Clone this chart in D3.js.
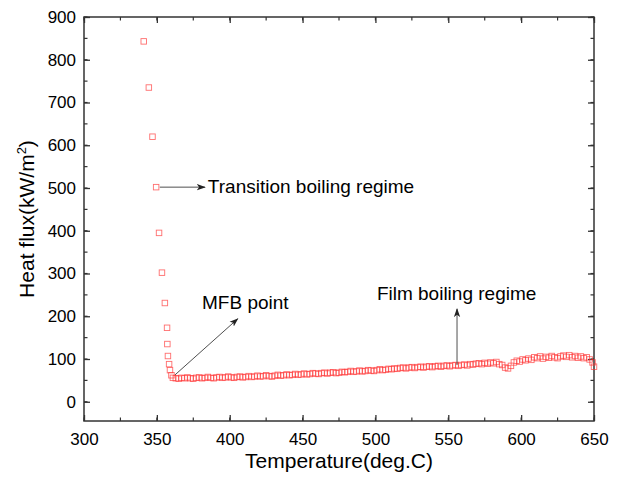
<!DOCTYPE html>
<html>
<head>
<meta charset="utf-8">
<script src="https://cdn.jsdelivr.net/npm/d3@7"></script>
<style>
  body { margin: 0; background: #fff; }
  text { font-family: "Liberation Sans", Arial, sans-serif; fill: #000; }
</style>
</head>
<body>
<div id="chart"></div>
<script>
// transition boiling points (deg.C, kW/m2)
var transT = [341, 344.5, 347, 349.5, 351.5, 353.5, 355.5, 357, 357.2, 357.6, 358.4, 359, 360];
var transQ = [843, 735, 620, 502, 395, 302, 231, 173, 135, 107, 88, 74, 62];

// film boiling points
var filmT = [361, 363, 365, 367, 369, 371, 373, 375, 377, 379, 381, 383, 385, 387, 389, 391, 393, 395, 397, 399,
  401, 403, 405, 407, 409, 411, 413, 415, 417, 419, 421, 423, 425, 427, 429, 431, 433, 435, 437, 439,
  441, 443, 445, 447, 449, 451, 453, 455, 457, 459, 461, 463, 465, 467, 469, 471, 473, 475, 477, 479,
  481, 483, 485, 487, 489, 491, 493, 495, 497, 499, 501, 503, 505, 507, 509, 511, 513, 515, 517, 519,
  521, 523, 525, 527, 529, 531, 533, 535, 537, 539, 541, 543, 545, 547, 549, 551, 553, 555, 557, 559,
  561, 563, 565, 567, 569, 571, 573, 575, 577, 579, 581, 583, 585, 587, 589, 591, 593, 595, 597, 599,
  601, 603, 605, 607, 609, 611, 613, 615, 617, 619, 621, 623, 625, 627, 629, 631, 633, 635, 637, 639,
  641, 643, 645, 647, 649, 650];
var filmQ = [56, 55, 54, 56, 55, 57, 55, 54, 56, 57, 55, 56, 58, 56, 55, 57, 58, 56, 57, 59,
  57, 56, 58, 59, 57, 58, 60, 58, 59, 61, 59, 60, 62, 60, 59, 61, 63, 61, 62, 64,
  62, 63, 65, 63, 64, 66, 64, 65, 67, 66, 65, 67, 68, 66, 68, 69, 67, 68, 70, 69,
  70, 72, 70, 71, 73, 71, 72, 74, 73, 72, 74, 76, 74, 75, 77, 76, 78, 77, 79, 80,
  78, 80, 81, 79, 81, 82, 80, 82, 83, 81, 83, 84, 82, 84, 85, 83, 85, 86, 84, 86,
  87, 85, 88, 87, 89, 90, 88, 91, 89, 92, 90, 93, 88, 86, 80, 78, 84, 92, 96, 94,
  99, 97, 101, 98, 104, 102, 106, 101, 105, 103, 107, 104, 102, 106, 108, 105, 109, 104, 107, 103,
  106, 102, 104, 99, 92, 82];

var xTicks = [300, 350, 400, 450, 500, 550, 600, 650];
var yTicks = [0, 100, 200, 300, 400, 500, 600, 700, 800, 900];

// annotations: text anchor and arrow in data units
var notes = [
  { text: "Transition boiling regime", tx: 385, ty: 488, from: [352, 502], to: [383, 502] },
  { text: "MFB point", tx: 381, ty: 217, from: [362.5, 63], to: [405.5, 194] },
  { text: "Film boiling regime", tx: 501, ty: 238, from: [556, 86], to: [556, 217] }
];

var width = 618, height = 482;
var margin = { top: 17, right: 24, bottom: 61, left: 84 };
var w = width - margin.left - margin.right;
var h = height - margin.top - margin.bottom;

var svg = d3.select("#chart").append("svg")
  .attr("width", width)
  .attr("height", height);

var defs = svg.append("defs");
defs.append("marker")
  .attr("id", "head")
  .attr("viewBox", "0 0 10 10")
  .attr("refX", 9)
  .attr("refY", 5)
  .attr("markerWidth", 9)
  .attr("markerHeight", 9)
  .attr("markerUnits", "userSpaceOnUse")
  .attr("orient", "auto")
  .append("path")
  .attr("d", "M0,1.5 L10,5 L0,8.5 L2.5,5 Z")
  .attr("fill", "#222");

var g = svg.append("g").attr("transform", "translate(" + margin.left + "," + margin.top + ")");

var x = d3.scaleLinear().domain([300, 650]).range([0, w]);
var y = d3.scaleLinear().domain([-45, 900]).range([h, 0]);

var xMinor = d3.range(300, 651, 25);
var yMinor = d3.range(-50, 901, 50).filter(function(d){ return d >= -45; });

var axisColor = "#333";

// bottom axis with labels
var xAxis = g.append("g")
  .attr("transform", "translate(0," + h + ")")
  .call(d3.axisBottom(x).tickValues(xTicks).tickSizeInner(-6).tickSizeOuter(0).tickPadding(12));
// top
var xTop = g.append("g")
  .call(d3.axisTop(x).tickValues(xTicks).tickSizeInner(-6).tickSizeOuter(0).tickFormat(""));
// left
var yAxis = g.append("g")
  .call(d3.axisLeft(y).tickValues(yTicks).tickSizeInner(-6).tickSizeOuter(0).tickPadding(8));
// right
var yRight = g.append("g")
  .attr("transform", "translate(" + w + ",0)")
  .call(d3.axisRight(y).tickValues(yTicks).tickSizeInner(-6).tickSizeOuter(0).tickFormat(""));

// minor ticks
var minorX = g.append("g").attr("class", "minor");
minorX.selectAll("line.b").data(xMinor).enter().append("line")
  .attr("x1", function(d){ return x(d); }).attr("x2", function(d){ return x(d); })
  .attr("y1", h).attr("y2", h - 3.5);
minorX.selectAll("line.t").data(xMinor).enter().append("line")
  .attr("x1", function(d){ return x(d); }).attr("x2", function(d){ return x(d); })
  .attr("y1", 0).attr("y2", 3.5);
minorX.selectAll("line.l").data(yMinor).enter().append("line")
  .attr("x1", 0).attr("x2", 3.5)
  .attr("y1", function(d){ return y(d); }).attr("y2", function(d){ return y(d); });
minorX.selectAll("line.r").data(yMinor).enter().append("line")
  .attr("x1", w).attr("x2", w - 3.5)
  .attr("y1", function(d){ return y(d); }).attr("y2", function(d){ return y(d); });
minorX.selectAll("line").attr("stroke", axisColor).attr("stroke-width", 1.2);

[xAxis, xTop, yAxis, yRight].forEach(function(a){
  a.select(".domain").remove();
  a.selectAll(".tick line").attr("stroke", axisColor).attr("stroke-width", 1.3);
  a.selectAll(".tick text").attr("font-size", 17).attr("fill", "#000")
    .style("font-family", "'Liberation Sans', Arial, sans-serif");
});

// frame
g.append("rect")
  .attr("width", w).attr("height", h)
  .attr("fill", "none")
  .attr("stroke", axisColor)
  .attr("stroke-width", 1.5);

// data squares
var pts = [];
transT.forEach(function(t, i){ pts.push([t, transQ[i]]); });
filmT.forEach(function(t, i){ pts.push([t, filmQ[i]]); });

var s = 5.5;
g.append("g").selectAll("rect")
  .data(pts)
  .enter().append("rect")
  .attr("x", function(d){ return x(d[0]) - s / 2; })
  .attr("y", function(d){ return y(d[1]) - s / 2; })
  .attr("width", s)
  .attr("height", s)
  .attr("fill", "none")
  .attr("stroke", "#ff3030")
  .attr("stroke-opacity", 0.7)
  .attr("stroke-width", 0.9);

// annotations
var ann = g.append("g");
notes.forEach(function(n){
  ann.append("line")
    .attr("x1", x(n.from[0])).attr("y1", y(n.from[1]))
    .attr("x2", x(n.to[0])).attr("y2", y(n.to[1]))
    .attr("stroke", "#222")
    .attr("stroke-width", 0.8)
    .attr("marker-end", "url(#head)");
  ann.append("text")
    .attr("x", x(n.tx)).attr("y", y(n.ty))
    .attr("font-size", 19)
    .text(n.text);
});

// axis titles
svg.append("text")
  .attr("x", margin.left + w / 2)
  .attr("y", 468)
  .attr("text-anchor", "middle")
  .attr("font-size", 21)
  .text("Temperature(deg.C)");

var yt = svg.append("text")
  .attr("transform", "translate(34," + (margin.top + h / 2) + ") rotate(-90)")
  .attr("text-anchor", "middle")
  .attr("font-size", 21);
yt.append("tspan").text("Heat flux(kW/m");
yt.append("tspan").attr("font-size", 13).attr("dy", -8).text("2");
yt.append("tspan").attr("dy", 8).text(")");
</script>
</body>
</html>
